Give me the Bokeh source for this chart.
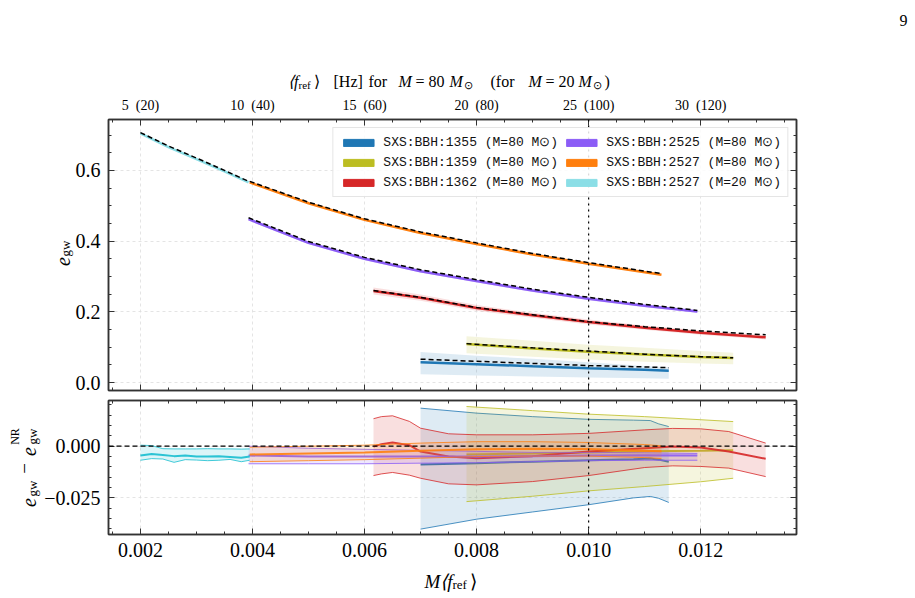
import math
from bokeh.plotting import figure
from bokeh.models import (Range1d, LinearAxis, FixedTicker, Span, Legend, LegendItem)
from bokeh.core.properties import value
from bokeh.layouts import column
from bokeh.embed import file_html
from bokeh.resources import INLINE

# ---------------- colours ----------------
C_1355 = "#1f77b4"
C_1359 = "#bcbd22"
C_1362 = "#d62728"
C_2525 = "#8b5cf6"
C_2527 = "#ff7f0e"
C_2527S = "#8bdee6"
C_2527S_DARK = "#17becf"

# ---------------- ticks / labels ----------------
NB = "\u00a0"
x_ticks = [0.002, 0.004, 0.006, 0.008, 0.010, 0.012]
x_tick_labels = ["0.002", "0.004", "0.006", "0.008", "0.010", "0.012"]
top_tick_labels = ["5" + NB * 2 + "(20)", "10" + NB * 2 + "(40)", "15" + NB * 2 + "(60)",
                   "20" + NB * 2 + "(80)", "25" + NB * 2 + "(100)", "30" + NB * 2 + "(120)"]
y1_ticks = [0.0, 0.2, 0.4, 0.6]
y1_tick_labels = ["0.0", "0.2", "0.4", "0.6"]
y2_ticks = [-0.025, 0.0]
y2_tick_labels = ["\u22120.025", "0.000"]
f_ref_line = 0.010

legend_names = ["SXS:BBH:1355 (M=80 M\u2299)", "SXS:BBH:1359 (M=80 M\u2299)", "SXS:BBH:1362 (M=80 M\u2299)",
                "SXS:BBH:2525 (M=80 M\u2299)", "SXS:BBH:2527 (M=80 M\u2299)", "SXS:BBH:2527 (M=20 M\u2299)"]
legend_colors = [C_1355, C_1359, C_1362, C_2525, C_2527, C_2527S]

# ---------------- top panel: e_gw ----------------
x_2527_20 = [0.0020, 0.0025, 0.0030, 0.0035, 0.00393]
e_2527_20 = [0.705, 0.666, 0.632, 0.597, 0.566]
e_2527_20_fit = [0.707, 0.669, 0.635, 0.600, 0.569]

x_2527_80 = [0.00395, 0.005, 0.006, 0.007, 0.008, 0.009, 0.010, 0.0113]
e_2527_80 = [0.566, 0.507, 0.460, 0.423, 0.392, 0.362, 0.336, 0.305]
e_2527_80_fit = [0.569, 0.510, 0.463, 0.426, 0.395, 0.365, 0.339, 0.308]

x_2525 = [0.00393, 0.005, 0.006, 0.007, 0.008, 0.009, 0.010, 0.011, 0.01194]
e_2525 = [0.462, 0.395, 0.350, 0.315, 0.287, 0.260, 0.237, 0.217, 0.201]
e_2525_fit = [0.466, 0.399, 0.354, 0.319, 0.291, 0.264, 0.241, 0.221, 0.204]
e_2525_lo = [0.458, 0.391, 0.346, 0.311, 0.283, 0.256, 0.233, 0.213, 0.197]
e_2525_hi = [0.466, 0.399, 0.354, 0.319, 0.291, 0.264, 0.241, 0.221, 0.205]

x_1362 = [0.00616, 0.007, 0.008, 0.009, 0.010, 0.011, 0.012, 0.01316]
e_1362 = [0.259, 0.240, 0.211, 0.190, 0.171, 0.155, 0.141, 0.128]
e_1362_fit = [0.260, 0.241, 0.212, 0.192, 0.172, 0.158, 0.146, 0.135]
e_1362_lo = [0.249, 0.231, 0.203, 0.183, 0.164, 0.149, 0.135, 0.122]
e_1362_hi = [0.269, 0.249, 0.219, 0.197, 0.178, 0.161, 0.147, 0.134]

x_1359 = [0.00782, 0.009, 0.010, 0.011, 0.012, 0.01258]
e_1359 = [0.109, 0.096, 0.087, 0.079, 0.072, 0.069]
e_1359_fit = [0.110, 0.098, 0.089, 0.080, 0.073, 0.070]
e_1359_lo = [0.083, 0.073, 0.065, 0.059, 0.054, 0.052]
e_1359_hi = [0.131, 0.118, 0.107, 0.098, 0.089, 0.084]

x_1355 = [0.0070, 0.008, 0.009, 0.010, 0.011, 0.01143]
e_1355 = [0.0575, 0.052, 0.046, 0.0405, 0.036, 0.033]
e_1355_fit = [0.066, 0.060, 0.054, 0.048, 0.044, 0.042]
e_1355_lo = [0.0235, 0.020, 0.017, 0.0145, 0.012, 0.0105]
e_1355_hi = [0.086, 0.076, 0.067, 0.057, 0.047, 0.043]

# ---------------- bottom panel: e_gw - e_gw^NR ----------------
dx_1355 = [0.0070, 0.008, 0.009, 0.010, 0.0108, 0.0111, 0.01125, 0.01143]
d_1355 = [-0.0088, -0.0082, -0.0075, -0.0068, -0.0063, -0.0060, -0.0065, -0.0075]
d_1355_lo = [-0.0401, -0.0353, -0.0318, -0.0283, -0.0250, -0.0243, -0.0252, -0.0272]
d_1355_hi = [0.0184, 0.0160, 0.0143, 0.0130, 0.0126, 0.0124, 0.0108, 0.0095]

dx_1359 = [0.00782, 0.009, 0.010, 0.011, 0.012, 0.01258]
d_1359 = [-0.0040, -0.0035, -0.0030, -0.0025, -0.0022, -0.0020]
d_1359_lo = [-0.0268, -0.0242, -0.0216, -0.0195, -0.0172, -0.0155]
d_1359_hi = [0.0192, 0.0172, 0.0155, 0.0143, 0.0128, 0.0119]

dx_1362 = [0.00616, 0.0063, 0.0065, 0.0068, 0.007, 0.0075, 0.008, 0.009, 0.010, 0.011, 0.0115, 0.012, 0.0125, 0.01316]
d_1362 = [-0.0002, 0.0010, 0.0018, 0.0005, -0.0026, -0.0050, -0.0058, -0.0048, -0.0026, -0.0010, -0.0002, -0.0006, -0.0026, -0.0061]
d_1362_lo = [-0.0142, -0.0134, -0.0127, -0.0140, -0.0155, -0.0182, -0.0187, -0.0171, -0.0142, -0.0103, -0.0095, -0.0098, -0.0106, -0.0147]
d_1362_hi = [0.0133, 0.0143, 0.0147, 0.0120, 0.0087, 0.0060, 0.0055, 0.0055, 0.0062, 0.0079, 0.0086, 0.0084, 0.0071, 0.0015]

dx_2525 = [0.00393, 0.005, 0.006, 0.007, 0.008, 0.009, 0.010, 0.011, 0.01194]
d_2525 = [-0.0045, -0.0050, -0.0050, -0.0050, -0.0050, -0.0048, -0.0045, -0.0044, -0.0045]
d_2525_lo = [-0.0085, -0.0085, -0.0085, -0.0082, -0.0080, -0.0075, -0.0070, -0.0068, -0.0068]
d_2525_hi = [0.0000, -0.0010, -0.0015, -0.0020, -0.0025, -0.0030, -0.0030, -0.0032, -0.0035]

dx_2527_80 = [0.00395, 0.005, 0.006, 0.007, 0.008, 0.009, 0.010, 0.011, 0.0113]
d_2527_80 = [-0.0040, -0.0035, -0.0030, -0.0022, -0.0015, -0.0012, -0.0014, -0.0022, -0.0025]
d_2527_80_lo = [-0.0075, -0.0070, -0.0065, -0.0058, -0.0050, -0.0048, -0.0048, -0.0055, -0.0060]
d_2527_80_hi = [-0.0005, 0.0000, 0.0005, 0.0015, 0.0022, 0.0022, 0.0018, 0.0008, 0.0002]

dx_2527_20 = [0.0020, 0.0022, 0.0024, 0.0026, 0.0028, 0.0030, 0.0032, 0.0034, 0.0036, 0.0038, 0.00395]
d_2527_20 = [-0.0045, -0.0038, -0.0042, -0.0048, -0.0045, -0.0050, -0.0050, -0.0049, -0.0052, -0.0056, -0.0050]
d_2527_20_lo = [-0.0068, -0.0060, -0.0062, -0.0078, -0.0065, -0.0067, -0.0070, -0.0068, -0.0064, -0.0075, -0.0068]
d_2527_20_hi = [0.0005, 0.0003, -0.0012, -0.0013, -0.0013, -0.0013, -0.0012, -0.0013, -0.0013, -0.0014, -0.0013]

# ---------------- layout constants ----------------
W = 915
SERIF = "Liberation Serif"
MONO = "Liberation Mono"
FRAME_L, FRAME_R = 108, 796
T_TOP, T_BOT = 119, 390
B_TOP, B_BOT = 400, 534
H1 = 395
XR = (0.00143, 0.01371)
Y1R = (-0.0226, 0.744)
Y2R = (-0.0427, 0.0221)
DARK = "#333333"
NAN = float("nan")


def px2x(px):
    return XR[0] + (px - FRAME_L) * (XR[1] - XR[0]) / (FRAME_R - FRAME_L)


def py2y1(py):
    return Y1R[1] - (py - T_TOP) * (Y1R[1] - Y1R[0]) / (T_BOT - T_TOP)


def py2y2(py):
    return Y2R[1] - (py - B_TOP) * (Y2R[1] - Y2R[0]) / (B_BOT - B_TOP)


x_minor = [0.0015 + 0.0005 * i for i in range(25)]
y1_minor = [-0.05 + 0.05 * i for i in range(17)]
y2_minor = [-0.045 + 0.005 * i for i in range(14)]


def style_axis(ax, ticks, minor, labels=None, size="20px", standoff=8):
    ax.ticker = FixedTicker(ticks=ticks, minor_ticks=minor)
    ax.major_tick_in = 6
    ax.major_tick_out = 0
    ax.minor_tick_in = 3
    ax.minor_tick_out = 0
    ax.axis_line_color = DARK
    ax.axis_line_width = 1.5
    ax.major_tick_line_color = DARK
    ax.minor_tick_line_color = DARK
    ax.major_tick_line_width = 1
    ax.minor_tick_line_width = 1
    if labels is None:
        ax.major_label_text_font_size = "0px"
        ax.major_label_standoff = 0
        ax.major_label_text_alpha = 0
    else:
        ax.major_label_overrides = {t: l for t, l in zip(ticks, labels)}
        ax.major_label_text_font = SERIF
        ax.major_label_text_font_size = size
        ax.major_label_text_color = "black"
        ax.major_label_standoff = standoff


def txt(p, x, y, text, size, italic=False, align="left", angle=0.0):
    p.text(x=[x], y=[y], text=[text], text_font=value(SERIF), text_font_size=value(f"{size}px"),
           text_font_style=value("italic" if italic else "normal"), text_align=value(align),
           text_baseline=value("alphabetic"), angle=angle, text_color="black", level="overlay")


def style_fig(p):
    p.outline_line_color = DARK
    p.outline_line_width = 1.5
    p.background_fill_color = "white"
    p.border_fill_color = "white"
    for g in (p.xgrid[0], p.ygrid[0]):
        g.grid_line_color = "#dddddd"
        g.grid_line_dash = "3 3"
        g.grid_line_width = 0.8


# ================= top figure =================
p1 = figure(width=W, height=H1, x_range=Range1d(*XR), y_range=Range1d(*Y1R),
            output_backend="svg", toolbar_location=None,
            min_border_left=FRAME_L, min_border_right=W - FRAME_R,
            min_border_top=T_TOP, min_border_bottom=H1 - T_BOT)
style_fig(p1)
style_axis(p1.xaxis[0], x_ticks, x_minor)
style_axis(p1.yaxis[0], y1_ticks, y1_minor, y1_tick_labels)
p1.xgrid[0].ticker = FixedTicker(ticks=x_ticks)
p1.ygrid[0].ticker = FixedTicker(ticks=y1_ticks)
top_ax = LinearAxis()
style_axis(top_ax, x_ticks, x_minor, top_tick_labels, size="14px", standoff=7)
p1.add_layout(top_ax, "above")
r_ax1 = LinearAxis()
style_axis(r_ax1, y1_ticks, y1_minor)
p1.add_layout(r_ax1, "right")

# bands
p1.varea(x=x_1355, y1=e_1355_lo, y2=e_1355_hi, fill_color=C_1355, fill_alpha=0.15)
p1.varea(x=x_1359, y1=e_1359_lo, y2=e_1359_hi, fill_color=C_1359, fill_alpha=0.15)
p1.varea(x=x_1362, y1=e_1362_lo, y2=e_1362_hi, fill_color=C_1362, fill_alpha=0.15)
p1.varea(x=x_2525, y1=e_2525_lo, y2=e_2525_hi, fill_color=C_2525, fill_alpha=0.25)
# curves
for xs, ys, c in [(x_1355, e_1355, C_1355), (x_1359, e_1359, C_1359),
                  (x_1362, e_1362, C_1362), (x_2525, e_2525, C_2525),
                  (x_2527_80, e_2527_80, C_2527), (x_2527_20, e_2527_20, C_2527S)]:
    p1.line(xs, ys, line_color=c, line_width=2.5)
for xs, ys in [(x_1355, e_1355_fit), (x_1359, e_1359_fit), (x_1362, e_1362_fit),
               (x_2525, e_2525_fit), (x_2527_80, e_2527_80_fit), (x_2527_20, e_2527_20_fit)]:
    p1.line(xs, ys, line_color="black", line_width=1.5, line_dash="5 3")
p1.add_layout(Span(location=f_ref_line, dimension="height", line_color="black",
                   line_dash="dotted", line_width=1.2))

# legend (patch-style entries)
items = []
for name, col in zip(legend_names, legend_colors):
    r = p1.quad(left=[NAN], right=[NAN], top=[NAN], bottom=[NAN], fill_color=col, line_color=col)
    items.append(LegendItem(label=name, renderers=[r]))
leg = Legend(items=items, location="top_right", orientation="vertical", nrows=3,
             glyph_width=38, glyph_height=9, label_height=14, label_standoff=6,
             label_text_font=MONO, label_text_font_size="13px", label_text_color="#111111",
             spacing=4, padding=6, margin=8, border_line_color="#cccccc",
             border_line_width=1, background_fill_alpha=0.85)
p1.add_layout(leg)

# top axis title:  <f_ref> [Hz]  for  M = 80 M_sun   (for  M = 20 M_sun)
TB = 81
txt(p1, px2x(298), py2y1(TB), "\u27e8f", 16, italic=True, align="right")
txt(p1, px2x(298), py2y1(TB + 3), "ref", 11)
txt(p1, px2x(313), py2y1(TB), "\u27e9", 16)
txt(p1, px2x(333), py2y1(TB), "[Hz]", 16)
txt(p1, px2x(368), py2y1(TB), "for", 16)
txt(p1, px2x(398), py2y1(TB), "M", 16, italic=True)
txt(p1, px2x(415), py2y1(TB), "=" + NB + "80", 16)
txt(p1, px2x(449), py2y1(TB), "M", 16, italic=True)
txt(p1, px2x(463), py2y1(TB + 3), "\u2299", 11)
txt(p1, px2x(490), py2y1(TB), "(for", 16)
txt(p1, px2x(528), py2y1(TB), "M", 16, italic=True)
txt(p1, px2x(545), py2y1(TB), "=" + NB + "20", 16)
txt(p1, px2x(578), py2y1(TB), "M", 16, italic=True)
txt(p1, px2x(592), py2y1(TB + 3), "\u2299", 11)
txt(p1, px2x(604), py2y1(TB), ")", 16)

# y title for top panel
txt(p1, px2x(62), py2y1(261), "e", 20, italic=True, align="center", angle=math.pi / 2)
txt(p1, px2x(65), py2y1(248), "gw", 13, align="center", angle=math.pi / 2)
txt(p1, px2x(903), py2y1(20), "9", 16, align="center")

# ================= bottom figure =================
H2 = 598 - H1
p2 = figure(width=W, height=H2, x_range=p1.x_range, y_range=Range1d(*Y2R),
            output_backend="svg", toolbar_location=None,
            min_border_left=FRAME_L, min_border_right=W - FRAME_R,
            min_border_top=B_TOP - H1, min_border_bottom=598 - B_BOT)
style_fig(p2)
style_axis(p2.xaxis[0], x_ticks, x_minor, x_tick_labels, size="20px", standoff=8)
style_axis(p2.yaxis[0], y2_ticks, y2_minor, y2_tick_labels)
p2.xgrid[0].ticker = FixedTicker(ticks=x_ticks)
p2.ygrid[0].ticker = FixedTicker(ticks=y2_ticks)
top_ax2 = LinearAxis()
style_axis(top_ax2, x_ticks, x_minor)
p2.add_layout(top_ax2, "above")
r_ax2 = LinearAxis()
style_axis(r_ax2, y2_ticks, y2_minor)
p2.add_layout(r_ax2, "right")

for xs, c, lo, hi, cen in [(dx_1355, C_1355, d_1355_lo, d_1355_hi, d_1355),
                           (dx_1359, C_1359, d_1359_lo, d_1359_hi, d_1359),
                           (dx_1362, C_1362, d_1362_lo, d_1362_hi, d_1362),
                           (dx_2525, C_2525, d_2525_lo, d_2525_hi, d_2525),
                           (dx_2527_80, C_2527, d_2527_80_lo, d_2527_80_hi, d_2527_80),
                           (dx_2527_20, C_2527S_DARK, d_2527_20_lo, d_2527_20_hi, d_2527_20)]:
    p2.varea(x=xs, y1=lo, y2=hi, fill_color=c, fill_alpha=0.15)
    p2.line(xs, lo, line_color=c, line_width=1, line_alpha=0.8)
    p2.line(xs, hi, line_color=c, line_width=1, line_alpha=0.8)
    p2.line(xs, cen, line_color=c, line_width=2, line_alpha=0.9)

p2.add_layout(Span(location=f_ref_line, dimension="height", line_color="black",
                   line_dash="dotted", line_width=1.2))
p2.add_layout(Span(location=0.0, dimension="width", line_color="black",
                   line_dash="5 3", line_width=1.2))

# bottom titles
txt(p2, px2x(452), py2y2(581), "M\u27e8f", 19, italic=True, align="right")
txt(p2, px2x(452), py2y2(584), "ref", 13)
txt(p2, px2x(469), py2y2(581), "\u27e9", 19)
txt(p2, px2x(28), py2y2(502), "e", 20, italic=True, align="center", angle=math.pi / 2)
txt(p2, px2x(32), py2y2(488), "gw", 13, align="center", angle=math.pi / 2)
txt(p2, px2x(24), py2y2(468), "\u2212", 19, align="center", angle=math.pi / 2)
txt(p2, px2x(28), py2y2(451), "e", 20, italic=True, align="center", angle=math.pi / 2)
txt(p2, px2x(32), py2y2(436), "gw", 13, align="center", angle=math.pi / 2)
txt(p2, px2x(14), py2y2(436), "NR", 12, align="center", angle=math.pi / 2)

layout = column(p1, p2, spacing=0)
open("out.html", "w").write(file_html(layout, INLINE))
